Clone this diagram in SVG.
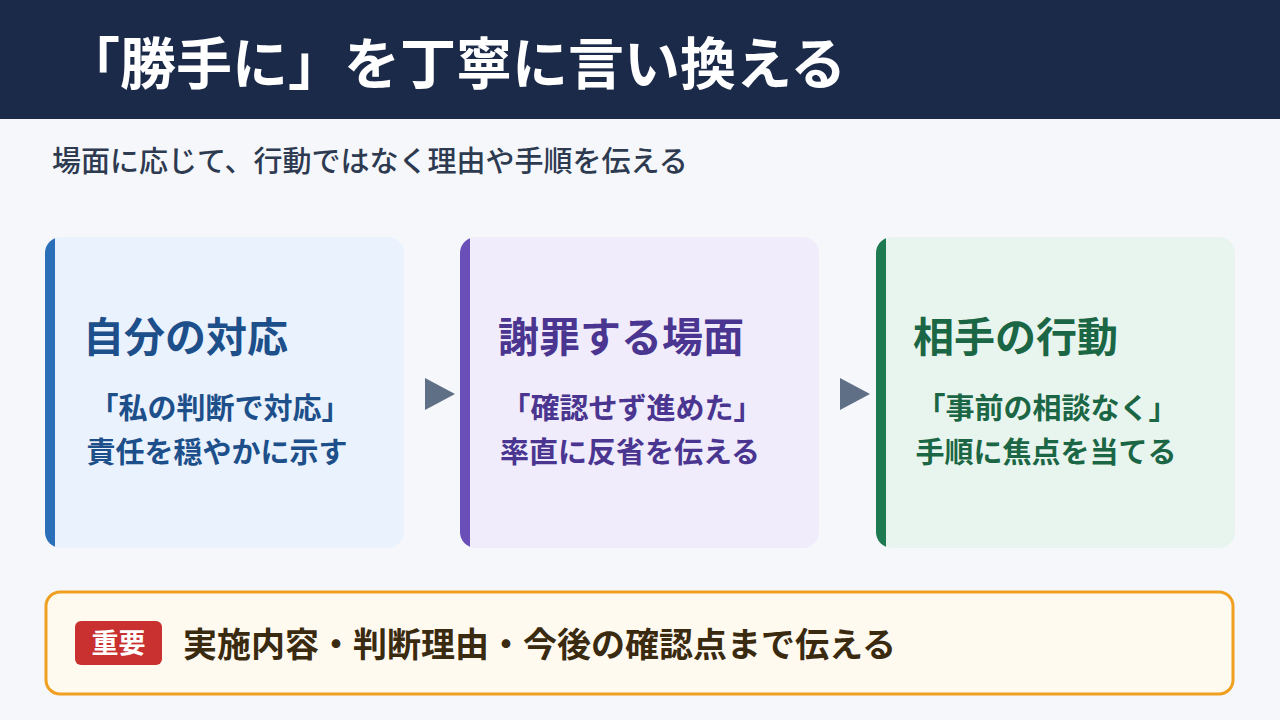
<svg xmlns="http://www.w3.org/2000/svg" width="1280" height="720" viewBox="0 0 1280 720">
<style>
text{font-family:"Noto Sans CJK JP","Noto Sans CJK SC",sans-serif;font-weight:700}
.t{font-size:41px}
.l{font-size:29px;text-anchor:middle}
</style>
<defs>
<clipPath id="c1"><rect x="45" y="237" width="359" height="311" rx="16"/></clipPath>
<clipPath id="c2"><rect x="460" y="237" width="359" height="311" rx="16"/></clipPath>
<clipPath id="c3"><rect x="876" y="237" width="359" height="311" rx="16"/></clipPath>
</defs>
<rect width="1280" height="720" fill="#f5f7fb"/>
<g id="header"><rect width="1280" height="119" fill="#1c2a4a"/>
<text x="64" y="84" font-size="56" fill="#ffffff">「勝手に」を丁寧に言い換える</text></g>
<text x="52" y="172" font-size="29" fill="#2d3a50" style="font-weight:500">場面に応じて、行動ではなく理由や手順を伝える</text>
<g id="card1"><rect x="45" y="237" width="359" height="311" rx="16" fill="#eaf2fd"/>
<rect x="45" y="237" width="10" height="311" fill="#2a6fb8" clip-path="url(#c1)"/>
<text class="t" x="83" y="352" fill="#1d4f8a">自分の対応</text>
<text class="l" x="220" y="419" fill="#1d4f8a">「私の判断で対応」</text>
<text class="l" x="217" y="463" fill="#1d4f8a">責任を穏やかに示す</text></g>
<g id="card2"><rect x="460" y="237" width="359" height="311" rx="16" fill="#f0ecfb"/>
<rect x="460" y="237" width="10" height="311" fill="#6b4fb8" clip-path="url(#c2)"/>
<text class="t" x="498" y="352" fill="#4a3590">謝罪する場面</text>
<text class="l" x="632" y="419" fill="#4a3590">「確認せず進めた」</text>
<text class="l" x="630" y="463" fill="#4a3590">率直に反省を伝える</text></g>
<g id="card3"><rect x="876" y="237" width="359" height="311" rx="16" fill="#e8f5ee"/>
<rect x="876" y="237" width="10" height="311" fill="#1e7a50" clip-path="url(#c3)"/>
<text class="t" x="913" y="352" fill="#1b6644">相手の行動</text>
<text class="l" x="1047" y="419" fill="#1b6644">「事前の相談なく」</text>
<text class="l" x="1046" y="463" fill="#1b6644">手順に焦点を当てる</text></g>
<g id="connectors" fill="#5f6f85">
<polygon points="425,378 455,394 425,410"/>
<polygon points="840,378 870,394 840,410"/></g>
<g id="note"><rect x="46" y="592" width="1187" height="102" rx="14" fill="#fffaf0" stroke="#f0a020" stroke-width="3"/>
<rect x="75" y="621" width="87" height="44" rx="6" fill="#c93030"/>
<text x="118.5" y="653" font-size="27" fill="#fff" text-anchor="middle">重要</text>
<text x="183" y="657" font-size="34" fill="#3a2a10">実施内容・判断理由・今後の確認点まで伝える</text></g>
</svg>
